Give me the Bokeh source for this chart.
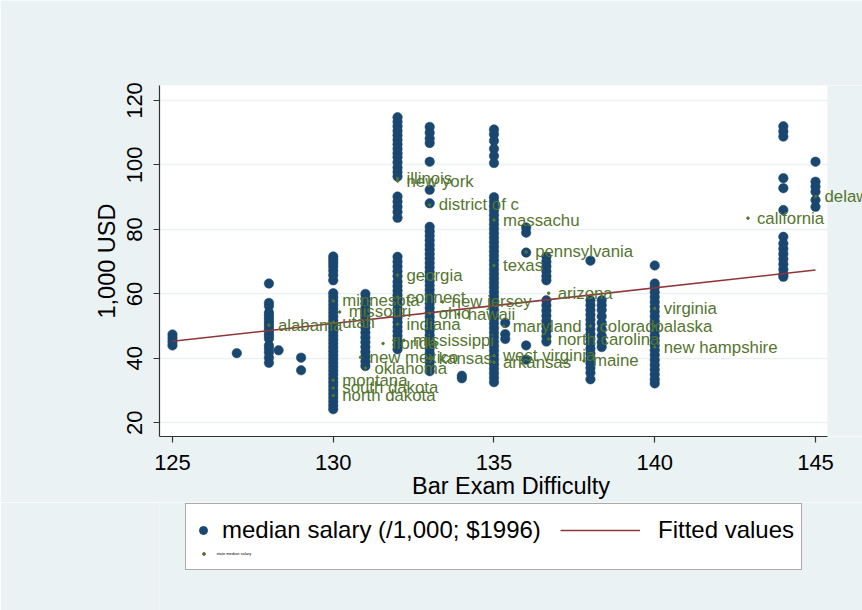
from bokeh.plotting import figure
from bokeh.models import (ColumnDataSource, LabelSet, Legend, LegendItem, Range1d,
                          BoxAnnotation)
from bokeh.layouts import column
from bokeh.embed import file_html
from bokeh.resources import INLINE
from bokeh.core.properties import value

# ---------------- data ----------------
difficulty_levels = [125, 127, 128, 128.3, 129, 130, 131, 132, 133, 134, 135,
                     135.35, 136, 136.63, 138, 138.35, 140, 144, 145]

sal_125 = [47.4, 46.3, 45.2, 44.0]
sal_127 = [41.6]
sal_128 = [63.2, 57.2, 56.2, 54.2, 53.3, 52.4, 51.5, 50.6, 49.7, 48.8, 47.9,
           47.0, 46.1, 44.0, 43.0, 41.8, 40.2, 38.6]
sal_128_3 = [42.5]
sal_129 = [40.2, 36.3]
sal_130 = [71.6, 70.6, 69.6, 68.5, 67.2, 65.8, 64.2, 60.2, 59.0, 57.8, 56.6,
           55.4, 54.2, 53.0, 51.8, 50.6, 49.4, 48.2, 47.0, 45.8, 44.6, 43.4,
           42.2, 41.0, 39.8, 38.6, 37.4, 36.2, 35.0, 33.8, 32.6, 31.4, 30.2,
           29.0, 27.8, 26.6, 25.4, 24.2]
sal_131 = [60.0, 58.5, 57.0, 55.5, 54.0, 52.5, 51.0, 49.5, 48.0, 46.5, 45.0,
           43.5, 42.0, 40.5, 39.0, 37.6]
sal_132 = [114.8, 113.4, 112.0, 110.6, 109.2, 107.8, 106.4, 105.0, 103.6, 102.4,
           100.8, 99.2, 97.8, 96.4, 90.2, 88.6, 87.0, 85.4, 83.6,
           71.5, 70.0, 68.5, 67.0, 65.5, 63.8, 62.4, 61.0, 59.6, 58.2, 56.8,
           55.4, 54.0, 52.6, 51.2, 49.8, 48.4, 47.0, 45.6, 44.2, 42.8]
sal_133 = [111.8, 110.0, 108.2, 106.8, 101.0, 92.3, 88.1,
           80.8, 79.4, 78.0, 76.6, 75.2, 73.8, 72.4, 71.0, 69.6, 68.2, 66.8,
           65.4, 64.0, 62.6, 61.2, 59.8, 58.4, 57.0, 55.6, 54.2, 52.8, 51.4,
           50.0, 48.6, 47.2, 45.8, 44.4, 43.0, 41.6, 40.2, 38.8, 37.4, 36.0]
sal_134 = [34.6, 33.8]
sal_135 = [111.0, 109.5, 107.5, 105.0, 102.8, 100.6,
           90.0, 88.6, 87.2, 85.8, 84.4, 83.0, 81.6, 80.2, 78.8, 77.4, 76.0,
           74.6, 73.2, 71.8, 70.4, 69.0, 67.6, 66.2, 64.8, 63.4, 62.0, 60.6,
           59.2, 57.8, 56.4, 55.0, 53.6, 52.2, 50.8, 49.4, 48.0, 46.6, 45.2,
           43.8, 42.4, 41.0, 39.6, 38.2, 36.8, 35.4, 34.0, 32.6]
sal_135_35 = [51.0, 47.5, 46.0]
sal_136 = [80.6, 79.0, 72.8, 44.0, 39.6]
sal_136_63 = [71.5, 70.0, 68.5, 67.0, 65.5, 64.2, 58.0, 56.4, 54.8, 53.2,
              51.6, 50.0, 48.4, 46.8, 45.2]
sal_138 = [70.3, 58.0, 56.5, 55.0, 53.5, 52.0, 50.5, 49.0, 47.5, 46.0, 44.5,
           43.0, 41.5, 40.0, 38.5, 37.0, 35.5, 33.5]
sal_138_35 = [58.0, 56.5, 55.0, 53.0, 51.0, 49.0, 47.0, 45.0, 43.5]
sal_140 = [68.8, 63.2, 62.0, 60.5, 59.0, 57.5, 56.0, 54.5, 53.0, 51.5, 50.0,
           48.5, 47.0, 45.5, 44.0, 42.5, 41.0, 39.5, 38.0, 36.5, 35.0, 33.5, 32.2]
sal_144 = [112.0, 110.4, 108.8, 95.9, 92.8, 86.0, 77.7, 75.6, 74.0, 72.4, 70.8,
           69.2, 67.6, 66.0, 65.3]
sal_145 = [101.0, 94.8, 93.3, 91.7, 89.1, 87.0]

salaries_by_level = [sal_125, sal_127, sal_128, sal_128_3, sal_129, sal_130,
                     sal_131, sal_132, sal_133, sal_134, sal_135, sal_135_35,
                     sal_136, sal_136_63, sal_138, sal_138_35, sal_140, sal_144,
                     sal_145]

state_names = ["alabama", "utah", "minnesota", "missouri", "connect", "new jersey",
               "ohio", "hawaii", "indiana", "florida", "mississippi", "new mexico",
               "kansas", "west virginia", "arkansas", "oklahoma", "montana",
               "south dakota", "north dakota", "georgia", "illinois", "new york",
               "district of c", "massachu", "texas", "pennsylvania", "arizona",
               "maryland", "north carolina", "colorado", "alaska", "virginia",
               "new hampshire", "maine", "california", "delaware"]
state_difficulty = [128, 130, 130, 130.2, 132, 133.4,
                    133, 133.9, 132, 131.55, 132.2, 130.85,
                    133, 135, 135, 131, 130,
                    130, 130, 132, 132, 132,
                    133, 135, 135, 136, 136.7,
                    135.3, 136.7, 138, 140, 140,
                    140, 137.8, 142.9, 145]
state_salary = [50.3, 51.2, 57.8, 54.4, 59.0, 57.5,
                54.0, 53.7, 50.6, 44.6, 45.6, 40.3,
                40.0, 40.8, 38.8, 37.0, 33.2,
                30.8, 28.5, 65.8, 95.8, 95.0,
                87.6, 82.9, 68.8, 73.0, 60.2,
                50.0, 46.0, 50.0, 50.0, 55.5,
                43.5, 39.2, 83.5, 90.2]

fit_x = [125, 145]
fit_y = [45.3, 67.4]

x_ticks = [125, 130, 135, 140, 145]
y_ticks = [20, 40, 60, 80, 100, 120]

# ---------------- build ----------------
school_x, school_y = [], []
for d, sal in zip(difficulty_levels, salaries_by_level):
    school_x += [d] * len(sal)
    school_y += sal

NAVY = "#1a476f"
MAROON = "#90353b"
GREEN = "#55752f"
BG = "#eaf2f3"
FONT = "Liberation Sans"
W = 862
H_TOP = 502
H_LEG = 108
FRAME_LEFT = 159

X_START, X_END = 124.596, 146.462
X_PLOT_END = 145.37

p = figure(width=W, height=H_TOP, output_backend="svg", toolbar_location=None,
           x_range=Range1d(X_START, X_END), y_range=Range1d(15.75, 124.65),
           min_border_left=FRAME_LEFT, min_border_right=0, min_border_top=85,
           min_border_bottom=66)
p.background_fill_color = "white"
p.border_fill_color = BG
p.outline_line_color = None

p.xgrid.visible = False
p.ygrid.grid_line_color = BG
p.ygrid.grid_line_width = 1.5

p.xaxis.ticker = x_ticks
p.yaxis.ticker = y_ticks
p.xaxis.bounds = (X_START, X_PLOT_END)
p.xaxis.axis_label = "Bar Exam Difficulty"
p.yaxis.axis_label = "1,000 USD"
p.yaxis.major_label_orientation = "vertical"
for ax in (p.xaxis[0], p.yaxis[0]):
    ax.axis_line_color = "#333333"
    ax.axis_line_width = 1.2
    ax.major_tick_line_color = "#333333"
    ax.major_tick_line_width = 1.2
    ax.major_tick_out = 6
    ax.major_tick_in = 0
    ax.minor_tick_line_color = None
    ax.major_label_text_font = FONT
    ax.major_label_text_font_size = "22px"
    ax.major_label_text_color = "black"
    ax.axis_label_text_font = FONT
    ax.axis_label_text_font_size = "23.5px"
    ax.axis_label_text_font_style = "normal"
    ax.axis_label_text_color = "black"
p.xaxis.major_label_standoff = 12
p.xaxis.axis_label_standoff = 0
p.yaxis.major_label_standoff = 11
p.yaxis.axis_label_standoff = 5

# the plot region ends at 145.37; beyond it the graph background shows
p.add_layout(BoxAnnotation(left=X_PLOT_END, fill_color=BG, fill_alpha=1.0,
                           line_color=None, level="glyph"))

r_dots = p.scatter(school_x, school_y, size=9.5, fill_color=NAVY, line_color=NAVY,
                   line_width=0.5)
r_fit = p.line(fit_x, fit_y, line_color=MAROON, line_width=1.6)

state_src = ColumnDataSource(dict(x=state_difficulty, y=state_salary, name=state_names))
r_states = p.scatter("x", "y", source=state_src, size=2.5, fill_color=GREEN,
                     line_color=GREEN)
labels = LabelSet(x="x", y="y", text="name", source=state_src, x_offset=9, y_offset=0,
                  text_font=value(FONT), text_font_size=value("16.8px"),
                  text_color=GREEN, text_baseline="middle")
p.add_layout(labels)

# ---------------- legend strip (its frame is aligned with the plot's) ----------------
q = figure(width=W, height=H_LEG, output_backend="svg", toolbar_location=None,
           x_range=Range1d(0, 1), y_range=Range1d(0, 1),
           x_axis_location=None, y_axis_location=None,
           min_border_left=0, min_border_right=0, min_border_top=0,
           min_border_bottom=0)
q.background_fill_color = BG
q.border_fill_color = BG
q.outline_line_color = None
q.grid.visible = False

nan = float("nan")
k_dots = q.scatter([nan], [nan], size=9.5, fill_color=NAVY, line_color=NAVY)
k_fit = q.line([nan, nan], [nan, nan], line_color=MAROON, line_width=1.6)
k_states = q.scatter([nan], [nan], size=2.5, fill_color=GREEN, line_color=GREEN)

box_leg = Legend(items=[LegendItem(label=value(" "), renderers=[])],
                 location=(185 - FRAME_LEFT, 40), padding=0, spacing=0, margin=0,
                 glyph_width=1, glyph_height=1, label_standoff=0,
                 label_width=614, label_height=65, label_text_font_size="2px",
                 border_line_color="#555555", border_line_width=1.5,
                 background_fill_color="white", background_fill_alpha=1.0)
leg_a = Legend(items=[LegendItem(label=value("median salary (/1,000; $1996)"),
                                 renderers=[k_dots])],
               location=(193 - FRAME_LEFT, 66), padding=0, margin=0, glyph_width=20,
               glyph_height=28, label_height=28, label_standoff=9,
               label_text_font=FONT, label_text_font_size="24px",
               label_text_color="black", background_fill_alpha=0,
               border_line_color=None)
leg_b = Legend(items=[LegendItem(label=value("Fitted values"), renderers=[k_fit])],
               location=(560 - FRAME_LEFT, 66), padding=0, margin=0, glyph_width=80,
               glyph_height=28, label_height=28, label_standoff=18,
               label_text_font=FONT, label_text_font_size="24px",
               label_text_color="black", background_fill_alpha=0,
               border_line_color=None)
leg_c = Legend(items=[LegendItem(label=value("state median salary"),
                                 renderers=[k_states])],
               location=(199.5 - FRAME_LEFT, 53.5), padding=0, margin=0, glyph_width=7,
               glyph_height=7, label_height=7, label_standoff=10,
               label_text_font=FONT, label_text_font_size="4px",
               label_text_color="black", background_fill_alpha=0,
               border_line_color=None)
for lg in (box_leg, leg_a, leg_b, leg_c):
    q.add_layout(lg)

open("out.html", "w").write(file_html(column(p, q), INLINE))
